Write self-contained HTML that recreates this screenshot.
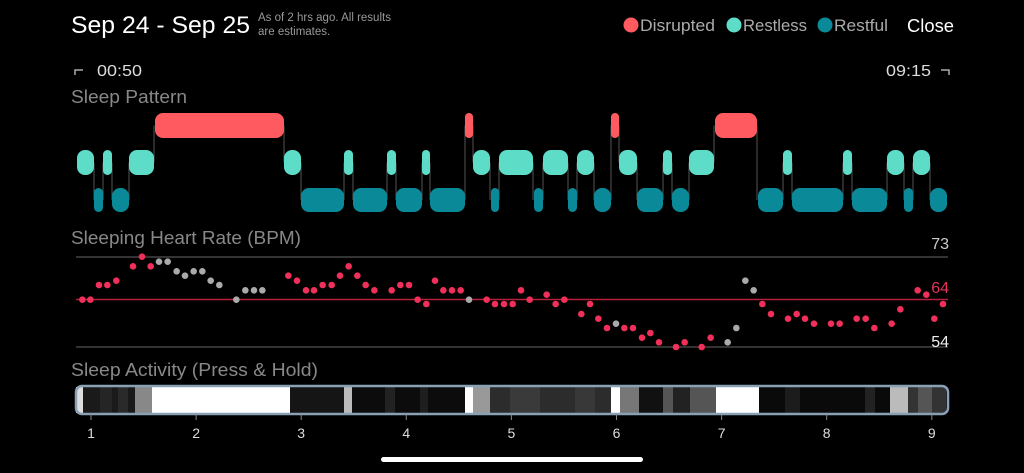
<!DOCTYPE html>
<html><head><meta charset="utf-8"><style>
body{margin:0;background:#000;width:1024px;height:473px;overflow:hidden;font-family:"Liberation Sans",sans-serif}
svg{position:absolute;left:0;top:0}
</style></head><body>
<svg id="s" width="1024" height="473" xmlns="http://www.w3.org/2000/svg">
<text x="71" y="33" fill="#fff" font-size="24.5" textLength="179" lengthAdjust="spacingAndGlyphs">Sep 24 - Sep 25</text>
<text x="258" y="21" fill="#999" font-size="11.5">As of 2 hrs ago. All results</text>
<text x="258" y="35" fill="#999" font-size="11.5">are estimates.</text>
<circle cx="631" cy="25" r="7.5" fill="#ff5a5f"/><text x="640" y="31" fill="#aaa" font-size="16.5" textLength="75" lengthAdjust="spacingAndGlyphs">Disrupted</text>
<circle cx="734" cy="25" r="7.5" fill="#5ddcc8"/><text x="743" y="31" fill="#aaa" font-size="16.5" textLength="64" lengthAdjust="spacingAndGlyphs">Restless</text>
<circle cx="825" cy="25" r="7.5" fill="#0a8a98"/><text x="834" y="31" fill="#aaa" font-size="16.5" textLength="54" lengthAdjust="spacingAndGlyphs">Restful</text>
<text x="907" y="32" fill="#fff" font-size="18" textLength="47" lengthAdjust="spacingAndGlyphs">Close</text>
<path d="M75 75V70H83M949 75V70H941" stroke="#aaa" stroke-width="1.5" fill="none"/>
<text x="97" y="76" fill="#ddd" font-size="16" textLength="45" lengthAdjust="spacingAndGlyphs">00:50</text>
<text x="886" y="76" fill="#ddd" font-size="16" textLength="45" lengthAdjust="spacingAndGlyphs">09:15</text>
<text x="71" y="103" fill="#888" font-size="18.5" textLength="116" lengthAdjust="spacingAndGlyphs">Sleep Pattern</text>
<text x="71" y="244" fill="#888" font-size="18.5" textLength="230" lengthAdjust="spacingAndGlyphs">Sleeping Heart Rate (BPM)</text>
<text x="71" y="376" fill="#888" font-size="18.5" textLength="247" lengthAdjust="spacingAndGlyphs">Sleep Activity (Press &amp; Hold)</text>
<line x1="76" y1="257" x2="948" y2="257" stroke="#666" stroke-width="1"/>
<line x1="76" y1="299.5" x2="948" y2="299.5" stroke="#b3203c" stroke-width="1.5"/>
<line x1="76" y1="347" x2="948" y2="347" stroke="#666" stroke-width="1"/>
<text x="949" y="249" fill="#ccc" font-size="16" text-anchor="end">73</text>
<text x="949" y="293" fill="#e8315a" font-size="16" text-anchor="end">64</text>
<text x="949" y="347" fill="#eee" font-size="16" text-anchor="end">54</text>
<g id="act"></g>
<rect x="76" y="386" width="872" height="28" rx="6" fill="none" stroke="#8aa0b4" stroke-width="2.5"/>
<g id="ticks" fill="#ddd" font-size="14" text-anchor="middle"></g>
<rect x="381" y="457" width="262" height="5" rx="2.5" fill="#fff"/>
</svg>
<script>
var s=document.getElementById('s'),NS='http://www.w3.org/2000/svg';
function el(t,a,p){var e=document.createElementNS(NS,t);for(var k in a)e.setAttribute(k,a[k]);(p||s).appendChild(e);return e}
var rows={d:[113,138,'#ff5a5f'],l:[150,175,'#5ddcc8'],f:[188,212,'#0a8a98']};
var seg=[['l',77,94],['f',94,103],['l',103,112],['f',112,129],['l',129,154],['d',155,284],['l',284,301],['f',301,344],['l',344,353],['f',353,387],['l',387,396],['f',396,422],['l',422,430],['f',430,465],['d',465,473],['l',473,490],['f',491,499],['l',499,533],['f',534,543],['l',543,568],['f',568,577],['l',577,594],['f',594,611],['d',611,619],['l',619,637],['f',637,663],['l',663,672],['f',672,689],['l',689,714],['d',715,757],['f',758,783],['l',783,792],['f',792,843],['l',843,852],['f',852,887],['l',887,904],['f',904,913],['l',913,930],['f',930,947]];
for(var i=0;i<seg.length-1;i++){var a=rows[seg[i][0]],b=rows[seg[i+1][0]];var x=seg[i][2];el('line',{x1:x,x2:x,y1:(a[0]+a[1])/2,y2:(b[0]+b[1])/2,stroke:'#555','stroke-width':1})}
seg.forEach(function(g){var r=rows[g[0]];var w=g[2]-g[1];el('rect',{x:g[1],y:r[0],width:w,height:r[1]-r[0],rx:Math.min(8,w/2),fill:r[2]})});
var d1=[[37,149,1],[61,149,1],[87,105,1],[112,105,1],[139,92,1],[189,49,1],[216,20,1],[242,49,1],[267,35,0],[293,35,0],[320,64,0],[345,77,0],[371,64,0],[397,64,0],[422,92,0],[448,105,0],[499,149,0],[526,121,0],[552,121,0],[577,121,0],[655,77,1],[681,92,1],[708,121,1],[732,121,1],[758,105,1],[785,105,1],[810,77,1],[836,49,1],[862,77,1],[887,105,1],[913,121,1],[965,121,1],[991,105,1],[1017,105,1],[1043,149,1],[1069,162,1],[1095,92,1],[1120,121,1],[1146,121,1],[1172,121,1],[1197,149,0],[1250,149,1],[1275,162,1]];
var d2=[[12,162,1],[38,162,1],[63,121,1],[89,149,1],[140,134,1],[167,162,1],[193,149,1],[244,192,1],[270,162,1],[295,206,1],[321,234,1],[348,221,0],[373,234,1],[399,234,1],[426,263,1],[451,249,1],[477,277,1],[528,291,1],[554,277,1],[605,291,1],[632,263,1],[683,277,0],[709,234,0],[736,92,0],[761,121,0],[787,162,1],[813,192,1],[864,206,1],[890,192,1],[915,206,1],[942,221,1],[993,221,1],[1019,221,1],[1070,206,1],[1097,206,1],[1123,234,1],[1175,221,1],[1201,178,1],[1253,121,1],[1279,134,1],[1303,206,1],[1329,162,1]];
d1.forEach(function(p){el('circle',{cx:70+p[0]/3,cy:250+p[1]/3,r:3.3,fill:p[2]?'#f0305a':'#aaa'})});
d2.forEach(function(p){el('circle',{cx:500+p[0]/3,cy:250+p[1]/3,r:3.3,fill:p[2]?'#f0305a':'#aaa'})});
var act=document.getElementById('act');
var as=[[76,83,'#ddd'],[83,135,'#1a1a1a'],[100,112,'#252525'],[118,128,'#2a2a2a'],[135,152,'#888'],[152,290,'#fff'],[290,344,'#151515'],[344,352,'#bbb'],[352,465,'#0c0c0c'],[385,395,'#222'],[420,428,'#1e1e1e'],[465,473,'#fff'],[473,490,'#999'],[490,611,'#2c2c2c'],[510,540,'#3a3a3a'],[575,595,'#383838'],[611,620,'#fff'],[620,639,'#777'],[639,663,'#111'],[663,673,'#555'],[673,690,'#222'],[690,716,'#555'],[716,759,'#fff'],[759,890,'#0a0a0a'],[785,800,'#1c1c1c'],[865,875,'#222'],[890,908,'#bbb'],[908,946,'#333'],[918,932,'#555']];
as.forEach(function(a){el('rect',{x:a[0],y:387,width:a[1]-a[0],height:26,fill:a[2]},act)});
var tk=document.getElementById('ticks');
for(var i=0;i<9;i++){var x=91+i*105.1;el('line',{x1:x,x2:x,y1:414,y2:420,stroke:'#888'},tk);var t=el('text',{x:x,y:438},tk);t.textContent=i+1}
</script>
</body></html>
